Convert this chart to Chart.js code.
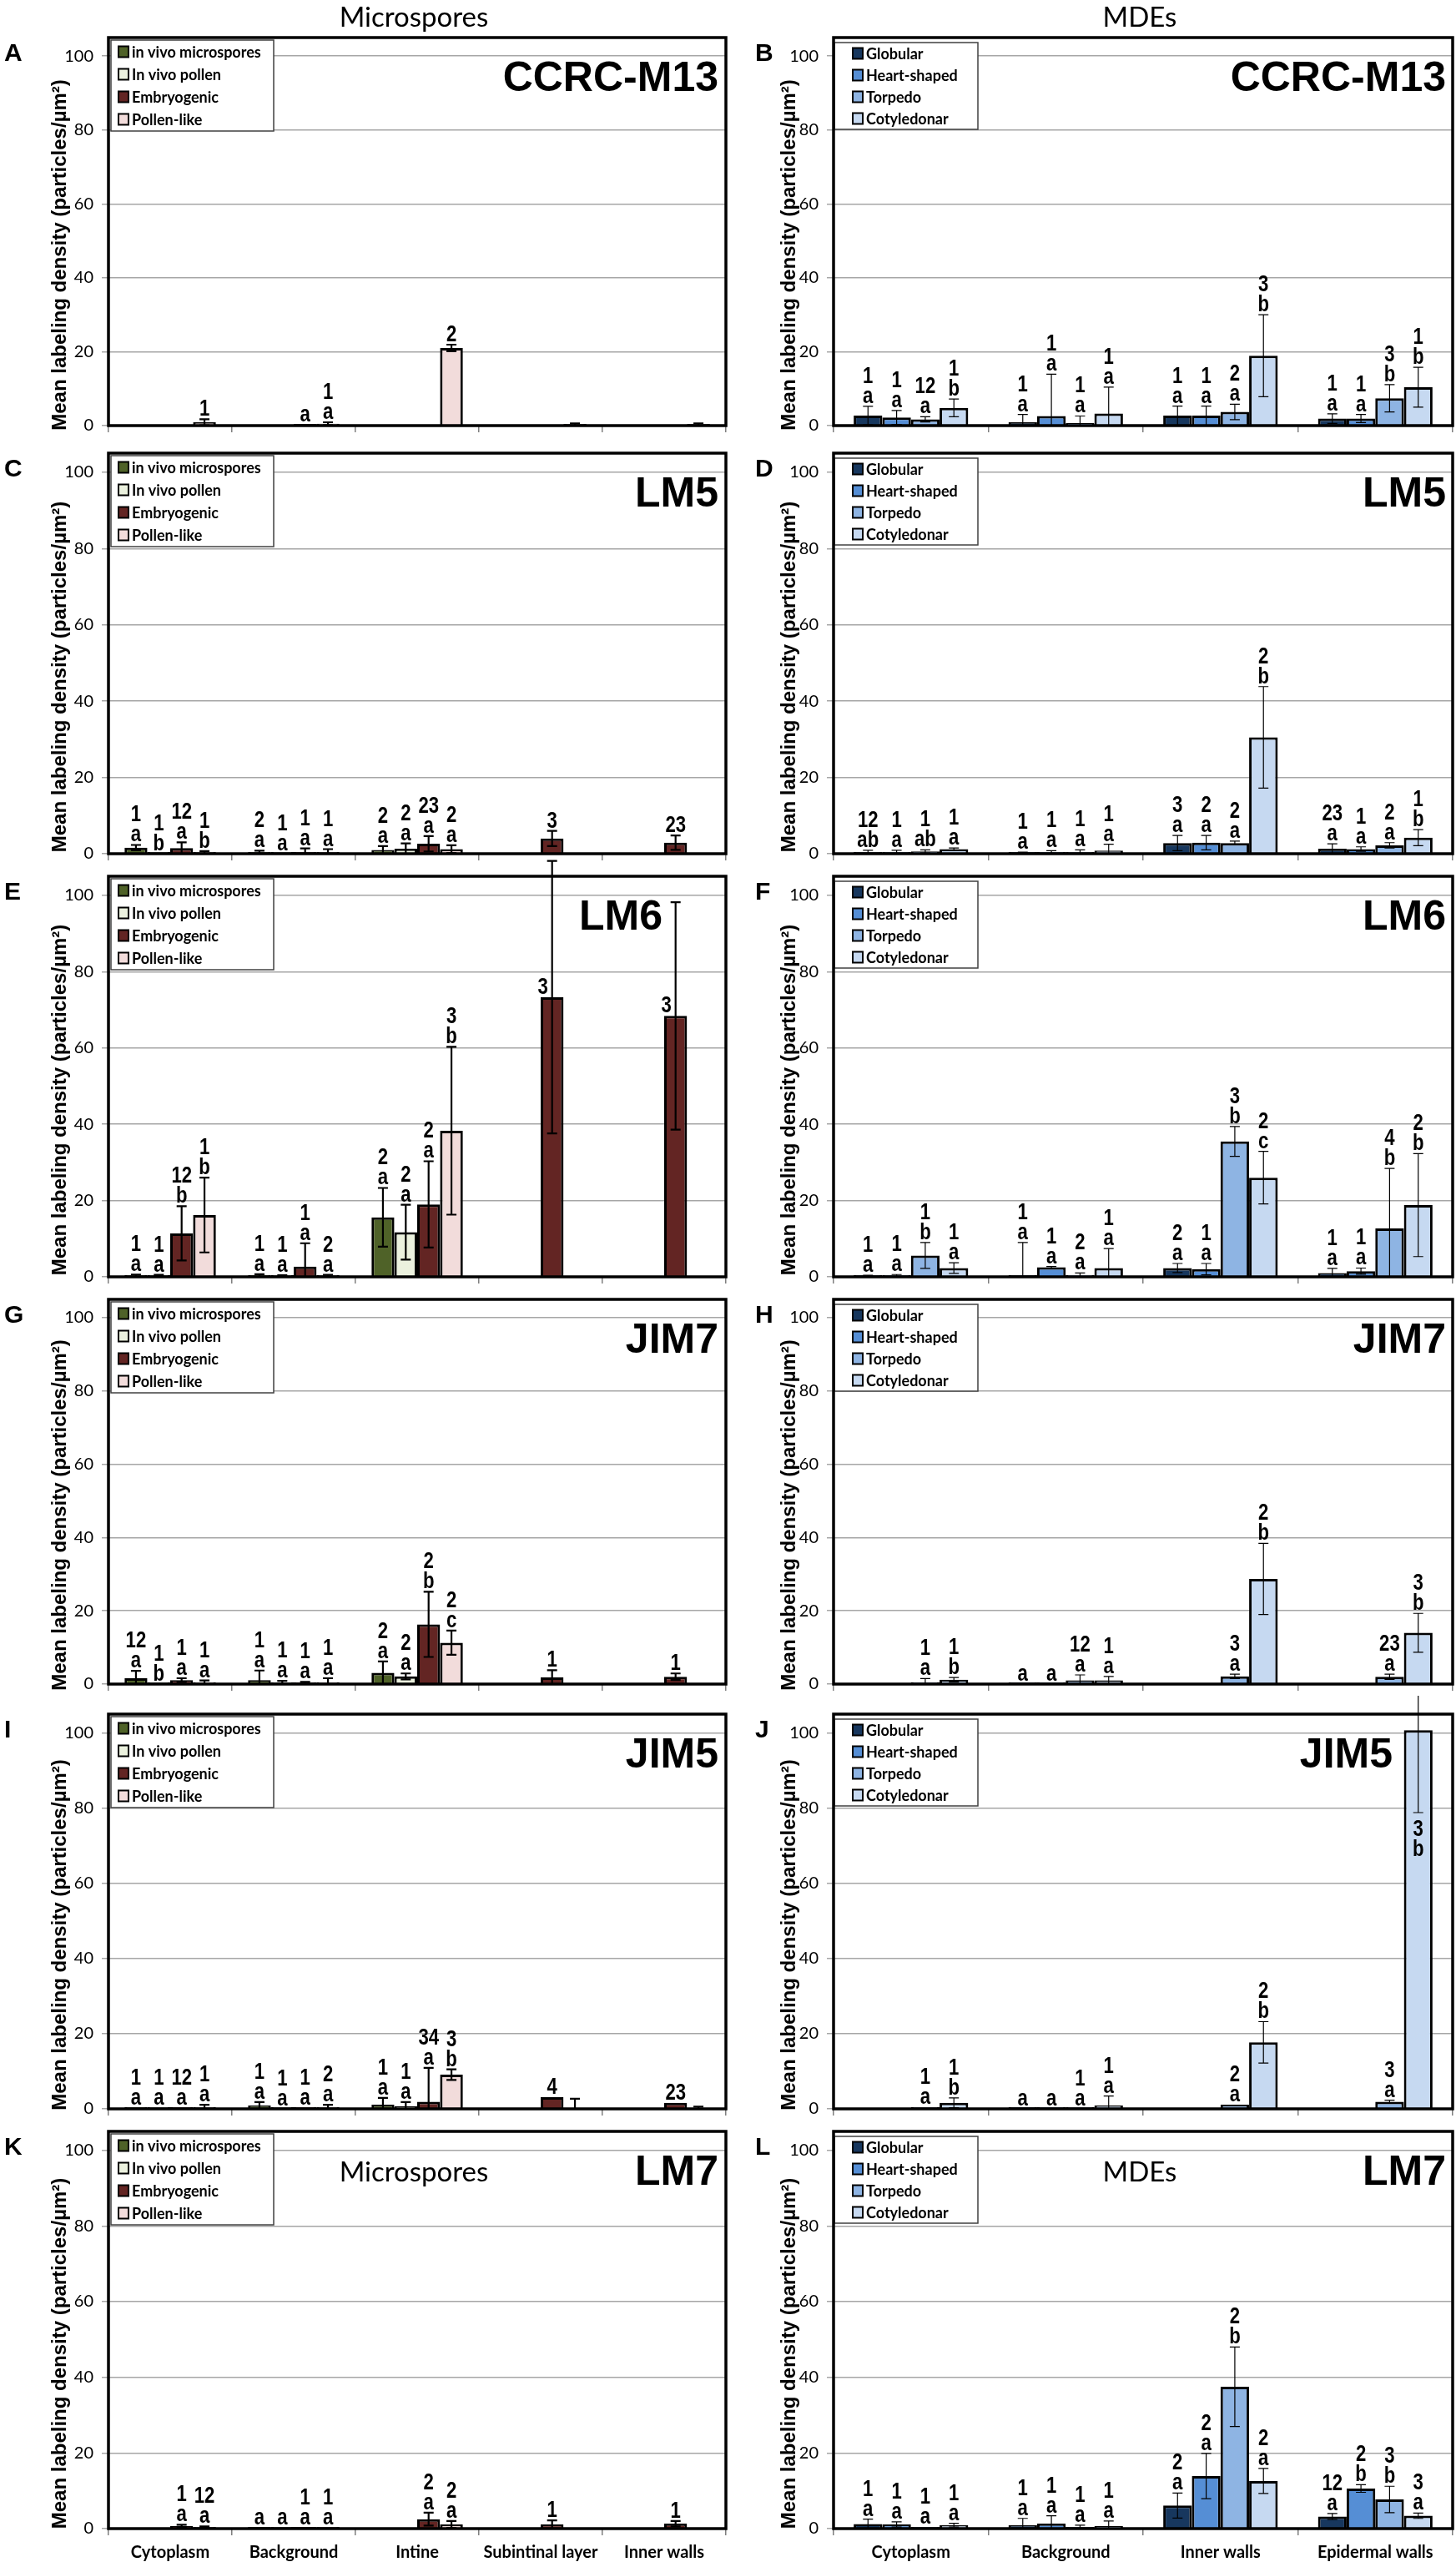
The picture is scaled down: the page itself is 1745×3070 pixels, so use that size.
<!DOCTYPE html>
<html>
<head>
<meta charset="utf-8">
<script src="https://cdn.jsdelivr.net/npm/chart.js@4.4.1/dist/chart.umd.min.js"></script>
<style>
  body { margin: 0; background: #fff; }
  #fig { position: relative; width: 1745px; height: 3070px; overflow: hidden; background: #fff; }
  #fig canvas { position: absolute; }
</style>
</head>
<body>
<div id="fig"></div>
<script>
// categories and series
const sitesMicro = ['Cytoplasm', 'Background', 'Intine', 'Subintinal layer', 'Inner walls'];
const sitesMDE = ['Cytoplasm', 'Background', 'Inner walls', 'Epidermal walls'];
const stagesMicro = ['in vivo microspores', 'In vivo pollen', 'Embryogenic', 'Pollen-like'];
const stagesMDE = ['Globular', 'Heart-shaped', 'Torpedo', 'Cotyledonar'];
const colorsMicro = ['#4F6228', '#EBF1DE', '#632523', '#F2DCDB'];
const colorsMDE = ['#17375E', '#558ED5', '#8EB4E3', '#C6D9F1'];
const yTicks = [0, 20, 40, 60, 80, 100];
const yTitle = 'Mean labeling density (particles/µm²)';

// rows = series, columns = sites. "num letter" significance labels
const meanA = [[0, 0, 0, 0, 0], [0, 0, 0, 0, 0], [0, 0.3, 0, 0, 0], [0.9, 0.5, 21.0, 0.1, 0.1]];
const errA  = [[0, 0, 0, 0, 0], [0, 0, 0, 0, 0], [0, 0, 0, 0, 0], [0.8, 0.4, 0.9, 0.5, 0.5]];
const sigA  = [['', '', '', '', ''], ['', '', '', '', ''], ['', ' a', '', '', ''], ['1', '1 a', '2', '', '']];

const meanB = [[2.7, 0.9, 2.7, 1.9], [2.2, 2.6, 2.7, 1.9], [1.7, 0.7, 3.7, 7.4], [4.8, 3.3, 18.9, 10.4]];
const errB  = [[2.5, 2.1, 2.6, 1.3], [1.9, 11.3, 2.6, 1.1], [0.7, 1.9, 2.1, 3.7], [2.4, 7.1, 11.1, 5.4]];
const sigB  = [['1 a', '1 a', '1 a', '1 a'], ['1 a', '1 a', '1 a', '1 a'], ['12 a', '1 a', '2 a', '3 b'], ['1 b', '1 a', '3 b', '1 b']];

const meanC = [[1.6, 0.4, 1.0, 0, 0], [0.1, 0.1, 1.3, 0, 0], [1.5, 0.4, 2.6, 4.0, 2.9], [0.3, 0.3, 1.2, 0, 0]];
const errC  = [[0.7, 0.4, 1.0, 0, 0], [0, 0, 1.4, 0, 0], [1.5, 1.0, 2.0, 2.0, 1.9], [0.4, 0.9, 1.0, 0, 0]];
const sigC  = [['1 a', '2 a', '2 a', '', ''], ['1 b', '1 a', '2 a', '', ''], ['12 a', '1 a', '23 a', '3', '23'], ['1 b', '1 a', '2 a', '', '']];

const meanD = [[0.4, 0.2, 2.8, 1.3], [0.4, 0.3, 2.9, 1.2], [0.6, 0.3, 2.8, 2.2], [1.2, 0.8, 30.5, 4.2]];
const errD  = [[0.5, 0.2, 2.0, 1.3], [0.5, 0.5, 1.9, 0.6], [0.4, 0.7, 0.5, 0.7], [0.3, 1.7, 13.3, 2.1]];
const sigD  = [['12 ab', '1 a', '3 a', '23 a'], ['1 a', '1 a', '2 a', '1 a'], ['1 ab', '1 a', '2 a', '2 a'], ['1 a', '1 a', '2 b', '1 b']];

const meanE = [[0.3, 0.3, 15.6, 0, 0], [0.3, 0.2, 11.7, 0, 0], [11.4, 2.7, 19.0, 73.3, 68.4], [16.2, 0.2, 38.3, 0, 0]];
const errE  = [[0.3, 0.4, 7.7, 0, 0], [0.2, 0.2, 7.2, 0, 0], [7.1, 6.1, 11.3, 35.7, 29.8], [9.8, 0.3, 22.0, 0, 0]];
const sigE  = [['1 a', '1 a', '2 a', '', ''], ['1 a', '1 a', '2 a', '', ''], ['12 b', '1 a', '2 a', '3', '3'], ['1 b', '2 a', '3 b', '', '']];

const meanF = [[0.2, 0.3, 2.3, 1.0], [0.3, 2.5, 2.0, 1.5], [5.6, 0.5, 35.5, 12.7], [2.3, 2.3, 26.0, 18.8]];
const errF  = [[0.2, 8.7, 1.2, 1.2], [0.3, 0.2, 1.5, 0.8], [3.4, 0.5, 3.9, 15.7], [1.4, 5.1, 6.9, 13.5]];
const sigF  = [['1 a', '1 a', '2 a', '1 a'], ['1 a', '1 a', '1 a', '1 a'], ['1 b', '2 a', '3 b', '4 b'], ['1 a', '1 a', '2 c', '2 b']];

const meanG = [[1.6, 1.1, 3.1, 0, 0], [0.1, 0.3, 2.1, 0, 0], [1.1, 0.3, 16.3, 1.8, 2.0], [0.5, 0.5, 11.3, 0, 0]];
const errG  = [[2.0, 2.6, 3.1, 0, 0], [0, 0.6, 0.8, 0, 0], [0.5, 0.3, 8.9, 2.0, 0.9], [0.5, 1.1, 3.3, 0, 0]];
const sigG  = [['12 a', '1 a', '2 a', '', ''], ['1 b', '1 a', '2 a', '', ''], ['1 a', '1 a', '2 b', '1', '1'], ['1 a', '1 a', '2 c', '', '']];

const meanH = [[0, 0.1, 0, 0], [0, 0.1, 0, 0], [0.5, 1.0, 2.1, 2.0], [1.2, 1.0, 28.7, 14.0]];
const errH  = [[0, 0, 0, 0], [0, 0, 0, 0], [1.0, 1.5, 0.6, 0.7], [0.6, 1.1, 9.7, 5.3]];
const sigH  = [['', ' a', '', ''], ['', ' a', '', ''], ['1 a', '12 a', '3 a', '23 a'], ['1 b', '1 a', '2 b', '3 b']];

const meanI = [[0.2, 0.9, 1.1, 0, 0], [0.2, 0.1, 0.7, 0, 0], [0.3, 0.2, 1.9, 3.1, 1.6], [0.4, 0.3, 9.1, 0, 0]];
const errI  = [[0, 0.9, 1.8, 0, 0], [0, 0, 1.1, 0, 0], [0, 0, 9.0, 0, 0], [0.7, 0.8, 1.4, 2.7, 0.6]];
const sigI  = [['1 a', '1 a', '1 a', '', ''], ['1 a', '1 a', '1 a', '', ''], ['12 a', '1 a', '34 a', '4', '23'], ['1 a', '2 a', '3 b', '', '']];

const meanJ = [[0, 0.1, 0, 0], [0, 0.1, 0, 0], [0.35, 0.1, 1.1, 1.9], [1.6, 0.9, 17.7, 100.7]];
const errJ  = [[0, 0, 0, 0], [0, 0, 0, 0], [0, 0, 0, 0.4], [1.3, 2.5, 5.5, 21.9]];
const sigJ  = [['', ' a', '', ''], ['', ' a', '', ''], ['1 a', '1 a', '2 a', '3 a'], ['1 b', '1 a', '2 b', '3 b']];

const meanK = [[0, 0.2, 0, 0, 0], [0, 0.2, 0, 0, 0], [0.7, 0.2, 2.5, 1.1, 1.3], [0.4, 0.2, 1.1, 0, 0]];
const errK  = [[0, 0, 0, 0, 0], [0, 0, 0, 0, 0], [0.3, 0, 1.7, 1.1, 0.7], [0.2, 0, 0.9, 0, 0]];
const sigK  = [['', ' a', '', '', ''], ['', ' a', '', '', ''], ['1 a', '1 a', '2 a', '1', '1'], ['12 a', '1 a', '2 a', '', '']];

const meanL = [[1.2, 0.9, 6.1, 3.2], [1.1, 1.3, 13.9, 10.6], [0.4, 0.4, 37.5, 7.7], [0.9, 0.7, 12.6, 3.4]];
const errL  = [[1.3, 1.8, 3.3, 0.8], [0.7, 2.1, 6.0, 1.0], [0, 0.5, 10.5, 3.5], [0.5, 1.3, 3.3, 0.7]];
const sigL  = [['1 a', '1 a', '2 a', '12 a'], ['1 a', '1 a', '2 a', '2 b'], ['1 a', '1 a', '2 b', '3 b'], ['1 a', '1 a', '2 a', '3 a']];

// layout
const rowTop = [45, 535, 1042, 1549, 2046, 2546];
const rowZero = [518, 1031, 1538, 2026, 2535, 3030];
const colGeom = [
  { left: 0, width: 874, axisW: 130, title: 'Microspores', letterX: 5, abRight: 861, errW: 2.2,
    leg: { dx: 3, dy: 3, w: 195, h: 109, first: 14, step: 27, mx: 9, tx: 25 } },
  { left: 874, width: 871, axisW: 125, title: 'MDEs', letterX: 31, abRight: 859, errW: 1.2,
    leg: { dx: 1, dy: 6, w: 172, h: 104, first: 13, step: 26, mx: 22, tx: 38 } }
];

const panels = [
  { letter: 'A', ab: 'CCRC-M13', row: 0, col: 0, mean: meanA, err: errA, sig: sigA },
  { letter: 'B', ab: 'CCRC-M13', row: 0, col: 1, mean: meanB, err: errB, sig: sigB },
  { letter: 'C', ab: 'LM5', row: 1, col: 0, mean: meanC, err: errC, sig: sigC },
  { letter: 'D', ab: 'LM5', row: 1, col: 1, mean: meanD, err: errD, sig: sigD },
  { letter: 'E', ab: 'LM6', row: 2, col: 0, mean: meanE, err: errE, sig: sigE, abRight: 794 },
  { letter: 'F', ab: 'LM6', row: 2, col: 1, mean: meanF, err: errF, sig: sigF },
  { letter: 'G', ab: 'JIM7', row: 3, col: 0, mean: meanG, err: errG, sig: sigG },
  { letter: 'H', ab: 'JIM7', row: 3, col: 1, mean: meanH, err: errH, sig: sigH },
  { letter: 'I', ab: 'JIM5', row: 4, col: 0, mean: meanI, err: errI, sig: sigI },
  { letter: 'J', ab: 'JIM5', row: 4, col: 1, mean: meanJ, err: errJ, sig: sigJ, abRight: 795 },
  { letter: 'K', ab: 'LM7', row: 5, col: 0, mean: meanK, err: errK, sig: sigK },
  { letter: 'L', ab: 'LM7', row: 5, col: 1, mean: meanL, err: errL, sig: sigL }
];

const SANS = '"Liberation Sans", Arial, sans-serif';

// error bars, significance letters, legend box, frame and text
const panelDecor = {
  id: 'panelDecor',
  afterDatasetsDraw(chart) {
    const o = chart.options.plugins.panelDecor;
    const ctx = chart.ctx;
    const a = chart.chartArea;
    const y = chart.scales.y;

    ctx.save();
    ctx.strokeStyle = '#000';
    ctx.lineWidth = o.errW;
    chart.data.datasets.forEach((ds, i) => {
      const meta = chart.getDatasetMeta(i);
      ds.err.forEach((e, j) => {
        if (!e) return;
        const v = ds.mean[j];
        const cx = meta.data[j].x;
        const yT = y.getPixelForValue(v + e);
        const lo = v - e;
        const yB = y.getPixelForValue(Math.max(lo, 0));
        ctx.beginPath();
        ctx.moveTo(cx, yT); ctx.lineTo(cx, yB);
        ctx.moveTo(cx - 6, yT); ctx.lineTo(cx + 6, yT);
        if (lo > 0) { ctx.moveTo(cx - 6, yB); ctx.lineTo(cx + 6, yB); }
        ctx.stroke();
      });
    });

    // significance labels
    ctx.fillStyle = '#000';
    ctx.font = 'bold 27px ' + SANS;
    ctx.textAlign = 'center';
    ctx.textBaseline = 'alphabetic';
    const put = (t, x0, y0) => {
      ctx.save(); ctx.translate(x0, y0); ctx.scale(0.82, 1); ctx.fillText(t, 0, 0); ctx.restore();
    };
    chart.data.datasets.forEach((ds, i) => {
      const meta = chart.getDatasetMeta(i);
      ds.sig.forEach((s, j) => {
        if (!s) return;
        const parts = s.split(' ');
        const num = parts[0], let1 = parts[1] || '';
        const v = ds.mean[j], e = ds.err[j] || 0;
        let cx = meta.data[j].x, base;
        if (v + e <= 90) base = y.getPixelForValue(v + e) - 4;
        else if (v <= 90) { base = y.getPixelForValue(v) - 4; cx -= 11; }
        else base = y.getPixelForValue(v - e) + 52;
        if (let1) {
          put(let1, cx, base);
          if (num) put(num, cx, base - 24);
        } else if (num) {
          put(num, cx, base);
        }
      });
    });

    // legend box
    const L = o.leg;
    const bx = a.left + L.dx, by = a.top + L.dy;
    ctx.fillStyle = '#fff';
    ctx.fillRect(bx, by, L.w, L.h);
    ctx.strokeStyle = '#404040';
    ctx.lineWidth = 1.5;
    ctx.strokeRect(bx, by, L.w, L.h);
    ctx.textAlign = 'left';
    ctx.textBaseline = 'middle';
    ctx.font = 'bold 18px Lato, sans-serif';
    chart.data.datasets.forEach((ds, i) => {
      const cy = by + L.first + i * L.step;
      ctx.fillStyle = ds.backgroundColor;
      ctx.fillRect(bx + L.mx, cy - 6.5, 12, 13);
      ctx.strokeStyle = '#000';
      ctx.lineWidth = 2;
      ctx.strokeRect(bx + L.mx, cy - 6.5, 12, 13);
      ctx.fillStyle = '#000';
      ctx.fillText(ds.label, bx + L.tx, cy + 1);
    });

    // plot frame
    ctx.strokeStyle = '#000';
    ctx.lineWidth = 3.5;
    ctx.strokeRect(a.left, a.top, a.right - a.left, a.bottom - a.top);

    // antibody name and panel letter
    ctx.fillStyle = '#000';
    ctx.textBaseline = 'alphabetic';
    ctx.textAlign = 'right';
    ctx.font = 'bold 50px ' + SANS;
    ctx.fillText(o.ab, o.abRight, a.top + 64);
    ctx.textAlign = 'left';
    ctx.font = 'bold 30px ' + SANS;
    ctx.fillText(o.letter, o.letterX, a.top + 28);

    // column title
    ctx.textAlign = 'center';
    ctx.font = '33px Lato, sans-serif';
    const mid = (a.left + a.right) / 2;
    if (o.row === 0) ctx.fillText(o.title, mid - 4, 32);
    if (o.row === 5) ctx.fillText(o.title, mid - 4, a.top + 60);

    // y axis title
    ctx.translate(72, (a.top + a.bottom) / 2 + 28);
    ctx.rotate(-Math.PI / 2);
    ctx.textBaseline = 'middle';
    ctx.font = 'bold 24px ' + SANS;
    ctx.fillText(yTitle, 0, 0);
    ctx.restore();
  }
};

const fig = document.getElementById('fig');

panels.forEach(p => {
  const col = colGeom[p.col];
  const top = p.row === 0 ? 0 : rowTop[p.row] - 14;
  const padTop = rowTop[p.row] - top;
  const xh = p.row === 5 ? 3070 - rowZero[5] : 14;
  const h = rowZero[p.row] + xh - top;
  const cv = document.createElement('canvas');
  cv.width = col.width;
  cv.height = h;
  cv.style.left = col.left + 'px';
  cv.style.top = top + 'px';
  cv.style.width = col.width + 'px';
  cv.style.height = h + 'px';
  fig.appendChild(cv);

  const micro = p.col === 0;
  const names = micro ? stagesMicro : stagesMDE;
  const colors = micro ? colorsMicro : colorsMDE;

  new Chart(cv, {
    type: 'bar',
    data: {
      labels: micro ? sitesMicro : sitesMDE,
      datasets: names.map((n, i) => ({
        label: n,
        data: p.mean[i].map(v => (v > 0 ? v : null)),
        backgroundColor: colors[i],
        borderColor: '#000',
        borderWidth: 3,
        minBarLength: 2,
        categoryPercentage: 0.74,
        barPercentage: 1,
        mean: p.mean[i],
        err: p.err[i],
        sig: p.sig[i]
      }))
    },
    options: {
      responsive: false,
      animation: false,
      devicePixelRatio: 1,
      layout: { padding: { top: padTop, right: 4, left: 0, bottom: 0 } },
      plugins: {
        legend: { display: false },
        tooltip: { enabled: false },
        panelDecor: {
          letter: p.letter, ab: p.ab, row: p.row, title: col.title,
          abRight: p.abRight || col.abRight, letterX: col.letterX,
          errW: col.errW, leg: col.leg
        }
      },
      scales: {
        x: {
          offset: true,
          grid: { offset: true, drawOnChartArea: false, drawTicks: true, tickLength: 8, color: '#7f7f7f', lineWidth: 1.5 },
          border: { display: false },
          ticks: {
            display: p.row === 5, color: '#000', padding: 9, maxRotation: 0, autoSkip: false,
            font: { family: 'Lato', size: 20, weight: 'bold' }
          },
          afterFit: s => { s.height = xh; }
        },
        y: {
          min: yTicks[0],
          max: 105,
          ticks: {
            stepSize: yTicks[1] - yTicks[0], includeBounds: false, color: '#000', padding: 10,
            font: { family: 'Lato', size: 20 }
          },
          grid: { color: '#a6a6a6', lineWidth: 1.5, drawTicks: true, tickLength: 8 },
          border: { display: false },
          afterFit: s => { s.width = col.axisW; }
        }
      }
    },
    plugins: [panelDecor]
  });
});
</script>
</body>
</html>
